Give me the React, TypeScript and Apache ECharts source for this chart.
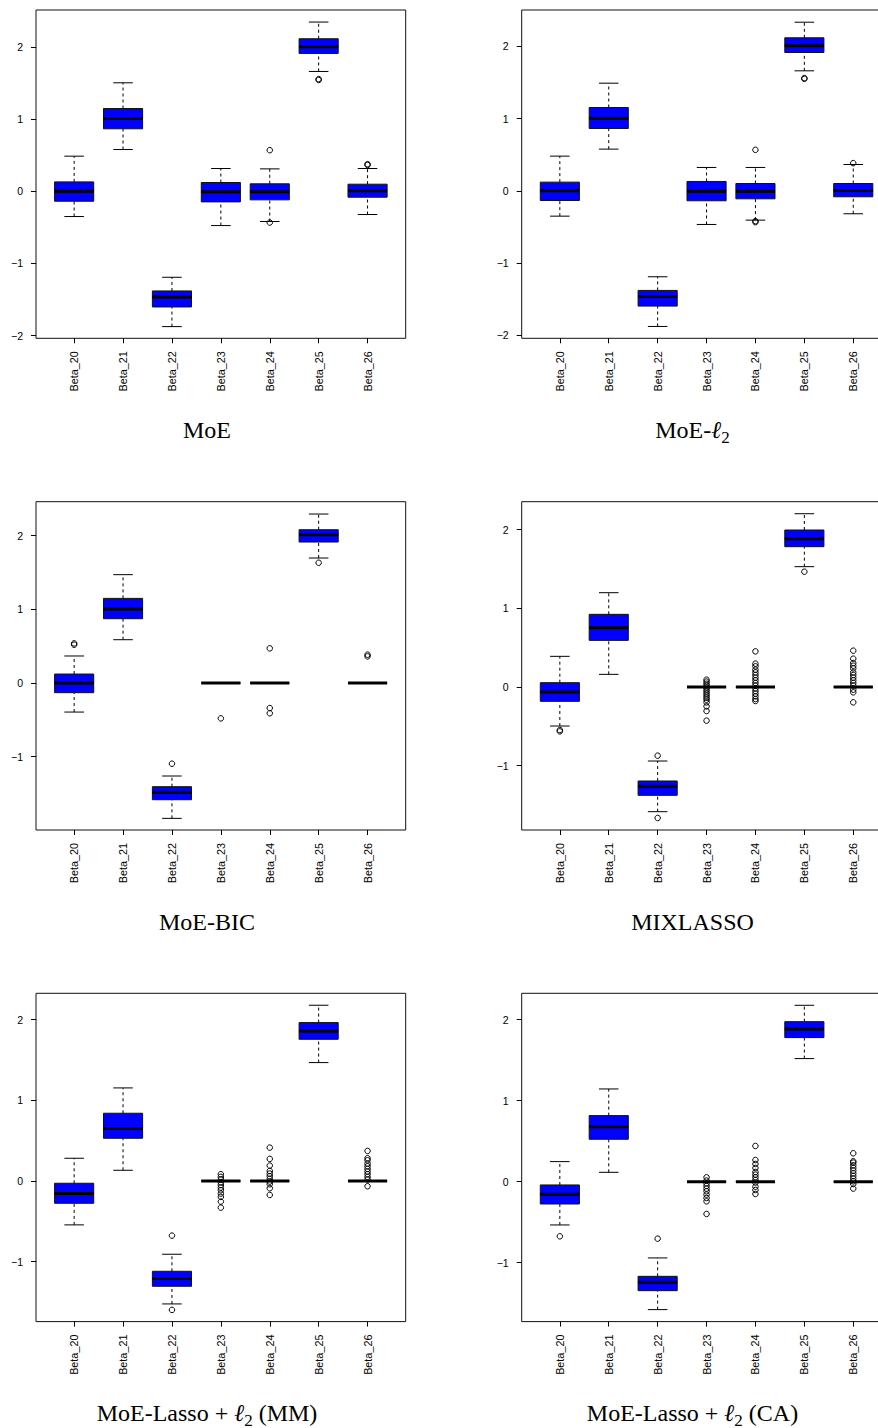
import React, { useEffect, useRef } from "react";
import * as echarts from "echarts";

// ---------------- data ----------------
const categories = ["Beta_20", "Beta_21", "Beta_22", "Beta_23", "Beta_24", "Beta_25", "Beta_26"];

// box stats per category: [lower whisker, Q1, median, Q3, upper whisker]
const moeStats = [
  [-0.351, -0.139, 0.0, 0.129, 0.485],
  [0.577, 0.864, 1.007, 1.145, 1.501],
  [-1.875, -1.603, -1.464, -1.381, -1.192],
  [-0.476, -0.148, -0.009, 0.12, 0.314],
  [-0.42, -0.12, -0.009, 0.102, 0.309],
  [1.658, 1.908, 2.0, 2.111, 2.342],
  [-0.323, -0.083, 0.005, 0.097, 0.314],
];
const moeOutliers = [[], [], [], [], [0.568, -0.434], [1.552, 1.54], [0.374, 0.362]];

const moeL2Stats = [
  [-0.351, -0.134, 0.0, 0.12, 0.48],
  [0.577, 0.863, 1.006, 1.153, 1.49],
  [-1.878, -1.596, -1.462, -1.379, -1.19],
  [-0.466, -0.138, -0.005, 0.129, 0.323],
  [-0.406, -0.111, -0.005, 0.101, 0.323],
  [1.661, 1.915, 2.007, 2.118, 2.334],
  [-0.318, -0.083, 0.005, 0.101, 0.364],
];
const moeL2Outliers = [[], [], [], [], [0.567, -0.42, -0.434], [1.56, 1.55], [0.383]];

const moeBicStats = [
  [-0.394, -0.131, 0.0, 0.122, 0.367],
  [0.588, 0.873, 1.005, 1.149, 1.471],
  [-1.837, -1.584, -1.484, -1.407, -1.262],
  [0, 0, 0, 0, 0],
  [0, 0, 0, 0, 0],
  [1.697, 1.914, 2.014, 2.081, 2.294],
  [0, 0, 0, 0, 0],
];
const moeBicOutliers = [[0.538, 0.52], [], [-1.095], [-0.48], [0.471, -0.34, -0.41], [1.633], [0.385, 0.362]];

const mixlassoStats = [
  [-0.496, -0.182, -0.064, 0.055, 0.39],
  [0.161, 0.593, 0.754, 0.924, 1.199],
  [-1.585, -1.377, -1.263, -1.195, -0.941],
  [0, 0, 0, 0, 0],
  [0, 0, 0, 0, 0],
  [1.53, 1.784, 1.886, 1.996, 2.203],
  [0, 0, 0, 0, 0],
];
const mixlassoOutliers = [
  [-0.547, -0.564],
  [],
  [-0.873, -1.665],
  [0.093, 0.068, 0.042, 0.017, -0.008, -0.034, -0.059, -0.085, -0.11, -0.136, -0.161, -0.195, -0.246, -0.305, -0.428],
  [0.453, 0.297, 0.263, 0.22, 0.186, 0.153, 0.119, 0.085, 0.051, 0.017, -0.017, -0.051, -0.085, -0.119, -0.153, -0.178],
  [1.466],
  [0.462, 0.36, 0.305, 0.271, 0.237, 0.186, 0.153, 0.119, 0.085, 0.051, 0.017, -0.034, -0.068, -0.195],
];

const lassoMMStats = [
  [-0.545, -0.277, -0.157, -0.029, 0.281],
  [0.132, 0.529, 0.649, 0.839, 1.153],
  [-1.525, -1.306, -1.211, -1.12, -0.909],
  [0, 0, 0, 0, 0],
  [0, 0, 0, 0, 0],
  [1.467, 1.756, 1.86, 1.963, 2.178],
  [0, 0, 0, 0, 0],
];
const lassoMMOutliers = [
  [],
  [],
  [-0.678, -1.599],
  [0.083, 0.05, 0.017, -0.017, -0.05, -0.083, -0.116, -0.157, -0.198, -0.256, -0.331],
  [0.413, 0.273, 0.19, 0.124, 0.091, 0.058, 0.025, -0.008, -0.041, -0.091, -0.174],
  [],
  [0.372, 0.281, 0.256, 0.215, 0.182, 0.149, 0.116, 0.083, 0.05, 0.017, -0.066],
];

const lassoCAStats = [
  [-0.535, -0.276, -0.156, -0.041, 0.247],
  [0.115, 0.523, 0.679, 0.815, 1.144],
  [-1.58, -1.346, -1.243, -1.169, -0.942],
  [0, 0, 0, 0, 0],
  [0, 0, 0, 0, 0],
  [1.519, 1.778, 1.885, 1.975, 2.177],
  [0, 0, 0, 0, 0],
];
const lassoCAOutliers = [
  [-0.675],
  [],
  [-0.704],
  [0.053, 0.012, -0.021, -0.053, -0.086, -0.119, -0.16, -0.202, -0.243, -0.399],
  [0.44, 0.267, 0.218, 0.169, 0.119, 0.086, 0.053, 0.021, -0.012, -0.062, -0.103, -0.152],
  [],
  [0.35, 0.251, 0.235, 0.202, 0.169, 0.136, 0.103, 0.07, 0.037, 0.004, -0.029, -0.086],
];

const titles = [
  "{n|MoE}",
  "{n|MoE-}{l|ℓ}{s|2}",
  "{n|MoE-BIC}",
  "{n|MIXLASSO}",
  "{n|MoE-Lasso + }{l|ℓ}{s|2}{n| (MM)}",
  "{n|MoE-Lasso + }{l|ℓ}{s|2}{n| (CA)}",
];

// ---------------- layout ----------------
const PAGE_W = 878;
const PAGE_H = 1428;
const CANVAS_W = 910; // right column frame runs past the page edge, as in the reference
const COL_LEFT = [36, 521.7];
const ROW_TOP = [10, 501.7, 993.3];
const FRAME_W = 369.7;
const FRAME_H = 328.3;
const TITLE_X = [207, 692.5];
const TITLE_Y = [430, 921.5, 1412.5];

const panels = [
  { stats: moeStats, outliers: moeOutliers, yMin: -2.037, yMax: 2.509, ticks: [-2, -1, 0, 1, 2] },
  { stats: moeL2Stats, outliers: moeL2Outliers, yMin: -2.042, yMax: 2.503, ticks: [-2, -1, 0, 1, 2] },
  { stats: moeBicStats, outliers: moeBicOutliers, yMin: -1.995, yMax: 2.4615, ticks: [-1, 0, 1, 2] },
  { stats: mixlassoStats, outliers: mixlassoOutliers, yMin: -1.818, yMax: 2.356, ticks: [-1, 0, 1, 2] },
  { stats: lassoMMStats, outliers: lassoMMOutliers, yMin: -1.744, yMax: 2.326, ticks: [-1, 0, 1, 2] },
  { stats: lassoCAStats, outliers: lassoCAOutliers, yMin: -1.728, yMax: 2.325, ticks: [-1, 0, 1, 2] },
];

const SANS = "'Liberation Sans', Arial, Helvetica, sans-serif";
const SERIF = "'Liberation Serif', 'Times New Roman', 'DejaVu Serif', serif";
const catPositions = categories.map((_, i) => i + 1);

function renderBox(params: any, api: any) {
  const x = api.value(0);
  const lo = api.value(1);
  const q1 = api.value(2);
  const med = api.value(3);
  const q3 = api.value(4);
  const hi = api.value(5);
  const [cx, yLo] = api.coord([x, lo]);
  const yQ1 = api.coord([x, q1])[1];
  const yMed = api.coord([x, med])[1];
  const yQ3 = api.coord([x, q3])[1];
  const yHi = api.coord([x, hi])[1];
  const bw = api.size([0.8, 0])[0];
  const sw = api.size([0.4, 0])[0];
  const dash = { stroke: "#000", lineWidth: 1, lineDash: [3, 3] };
  const solid = { stroke: "#000", lineWidth: 1 };
  return {
    type: "group",
    children: [
      { type: "line", shape: { x1: cx, y1: yLo, x2: cx, y2: yQ1 }, style: dash },
      { type: "line", shape: { x1: cx, y1: yQ3, x2: cx, y2: yHi }, style: dash },
      { type: "line", shape: { x1: cx - sw / 2, y1: yLo, x2: cx + sw / 2, y2: yLo }, style: solid },
      { type: "line", shape: { x1: cx - sw / 2, y1: yHi, x2: cx + sw / 2, y2: yHi }, style: solid },
      {
        type: "rect",
        shape: { x: cx - bw / 2, y: yQ3, width: bw, height: yQ1 - yQ3 },
        style: { fill: "#0000ff", stroke: "#111", lineWidth: 1 },
      },
      { type: "line", shape: { x1: cx - bw / 2, y1: yMed, x2: cx + bw / 2, y2: yMed }, style: { stroke: "#000", lineWidth: 3 } },
    ],
  };
}

function buildOption() {
  const grid: any[] = [];
  const xAxis: any[] = [];
  const yAxis: any[] = [];
  const series: any[] = [];
  const graphic: any[] = [];

  panels.forEach((p, i) => {
    const col = i % 2;
    const row = Math.floor(i / 2);
    grid.push({
      left: COL_LEFT[col],
      top: ROW_TOP[row],
      width: FRAME_W,
      height: FRAME_H,
      show: true,
      borderColor: "#111",
      borderWidth: 1,
      backgroundColor: "transparent",
    });
    xAxis.push({
      type: "value",
      gridIndex: i,
      min: 0.22,
      max: 7.78,
      axisLine: { show: false, onZero: false },
      splitLine: { show: false },
      axisTick: { show: true, customValues: catPositions, length: 5, lineStyle: { color: "#000", width: 1 } },
      axisLabel: {
        customValues: catPositions,
        formatter: (v: number) => categories[Math.round(v) - 1],
        rotate: 90,
        margin: 13,
        fontSize: 10.8,
        fontFamily: SANS,
        color: "#000",
      },
    });
    yAxis.push({
      type: "value",
      gridIndex: i,
      min: p.yMin,
      max: p.yMax,
      axisLine: { show: false, onZero: false },
      splitLine: { show: false },
      axisTick: { show: true, customValues: p.ticks, length: 5, lineStyle: { color: "#000", width: 1 } },
      axisLabel: {
        customValues: p.ticks,
        formatter: (v: number) => String(v).replace("-", "\u2212"),
        margin: 13,
        fontSize: 10.5,
        fontFamily: SANS,
        color: "#000",
      },
    });
    series.push({
      type: "custom",
      xAxisIndex: i,
      yAxisIndex: i,
      silent: true,
      renderItem: renderBox,
      encode: { x: 0, y: [1, 2, 3, 4, 5] },
      data: p.stats.map((s, k) => [k + 1, ...s]),
      z: 2,
    });
    const pts: number[][] = [];
    p.outliers.forEach((vals, k) => vals.forEach((v) => pts.push([k + 1, v])));
    series.push({
      type: "scatter",
      xAxisIndex: i,
      yAxisIndex: i,
      silent: true,
      symbol: "circle",
      symbolSize: 5.5,
      itemStyle: { color: "rgba(0,0,0,0)", borderColor: "#000", borderWidth: 1, opacity: 1 },
      data: pts,
      z: 3,
    });
    graphic.push({
      type: "text",
      x: TITLE_X[col],
      y: TITLE_Y[row],
      style: {
        text: titles[i],
        align: "center",
        verticalAlign: "middle",
        fill: "#000",
        rich: {
          n: { fontSize: 24, fontFamily: SERIF, lineHeight: 32, fill: "#000" },
          l: { fontSize: 24, fontFamily: SERIF, fontStyle: "italic", lineHeight: 32, fill: "#000" },
          s: { fontSize: 17, fontFamily: SERIF, lineHeight: 17, verticalAlign: "bottom", fill: "#000" },
        },
      },
    });
  });

  return {
    animation: false,
    backgroundColor: "#fff",
    grid,
    xAxis,
    yAxis,
    series,
    graphic,
  };
}

export default function App() {
  const ref = useRef<HTMLDivElement>(null);
  useEffect(() => {
    if (!ref.current) return;
    const chart = echarts.init(ref.current, null, { renderer: "svg" });
    chart.setOption(buildOption() as any);
    return () => chart.dispose();
  }, []);
  return (
    <div
      style={{
        position: "absolute",
        left: 0,
        top: 0,
        width: PAGE_W,
        height: PAGE_H,
        overflow: "hidden",
        background: "#fff",
      }}
    >
      <div ref={ref} style={{ width: CANVAS_W, height: PAGE_H }} />
    </div>
  );
}
